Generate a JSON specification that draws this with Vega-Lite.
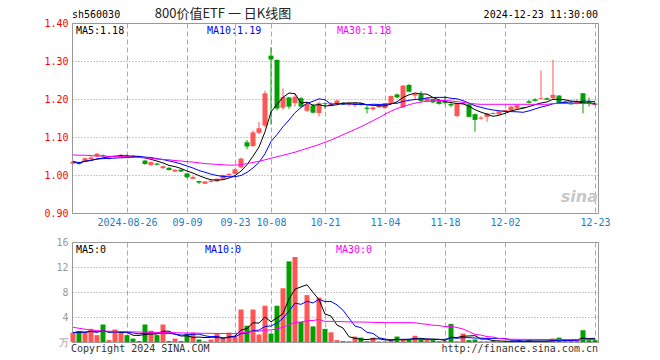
{
  "$schema": "https://vega.github.io/schema/vega-lite/v6.json",
  "padding": {"left": 43, "top": 7, "right": 5, "bottom": 5},
  "background": "white",
  "bounds": "flush",
  "spacing": 29,
  "config": {
    "view": {"stroke": "#999999", "strokeWidth": 1},
    "font": "DejaVu Sans Mono",
    "text": {"font": "DejaVu Sans Mono", "fontSize": 10},
    "axisY": {
      "labelFont": "DejaVu Sans Mono", "labelFontSize": 10, "labelPadding": 4,
      "labelFlush": false, "labelOverlap": false, "ticks": false, "domain": false,
      "title": null, "grid": true, "gridDash": [1, 2], "gridColor": "#999999"
    },
    "axisX": {
      "labelFont": "DejaVu Sans Mono", "labelFontSize": 10, "labelPadding": 4,
      "labelAngle": 0, "labelOverlap": false, "ticks": false, "domain": false,
      "title": null, "grid": true, "gridDash": [5, 3], "gridColor": "#aaaaaa"
    }
  },
  "datasets": {
    "k": [
      {"d":"2024-08-13","o":1.030,"h":1.037,"l":1.028,"c":1.035,"v":1.5,"m30":1.053,"vm30":2.35},
      {"d":"2024-08-14","o":1.034,"h":1.035,"l":1.027,"c":1.029,"v":1.7,"m30":1.052,"vm30":2.2},
      {"d":"2024-08-15","o":1.036,"h":1.046,"l":1.035,"c":1.044,"v":1.5,"m30":1.052,"vm30":2.05},
      {"d":"2024-08-16","o":1.041,"h":1.050,"l":1.040,"c":1.046,"v":2.1,"m30":1.051,"vm30":1.92},
      {"d":"2024-08-19","o":1.049,"h":1.058,"l":1.048,"c":1.056,"v":1.1,"m30":1.050,"vm30":1.82},
      {"d":"2024-08-20","o":1.052,"h":1.054,"l":1.047,"c":1.049,"v":2.8,"m30":1.050,"vm30":1.77},
      {"d":"2024-08-21","o":1.043,"h":1.048,"l":1.041,"c":1.046,"v":0.3,"m30":1.049,"vm30":1.72},
      {"d":"2024-08-22","o":1.048,"h":1.051,"l":1.046,"c":1.050,"v":2.0,"m30":1.049,"vm30":1.7},
      {"d":"2024-08-23","o":1.048,"h":1.055,"l":1.047,"c":1.053,"v":1.45,"m30":1.048,"vm30":1.68},
      {"d":"2024-08-26","o":1.052,"h":1.054,"l":1.049,"c":1.050,"v":1.1,"m30":1.048,"vm30":1.65},
      {"d":"2024-08-27","o":1.051,"h":1.052,"l":1.046,"c":1.047,"v":0.55,"m30":1.047,"vm30":1.62},
      {"d":"2024-08-28","o":1.047,"h":1.048,"l":1.045,"c":1.046,"v":0.15,"m30":1.046,"vm30":1.6},
      {"d":"2024-08-29","o":1.038,"h":1.040,"l":1.027,"c":1.029,"v":2.8,"m30":1.045,"vm30":1.58},
      {"d":"2024-08-30","o":1.026,"h":1.036,"l":1.025,"c":1.034,"v":1.8,"m30":1.044,"vm30":1.56},
      {"d":"2024-09-02","o":1.030,"h":1.032,"l":1.025,"c":1.027,"v":1.1,"m30":1.042,"vm30":1.54},
      {"d":"2024-09-03","o":1.018,"h":1.025,"l":1.016,"c":1.023,"v":2.8,"m30":1.041,"vm30":1.52},
      {"d":"2024-09-04","o":1.019,"h":1.020,"l":1.012,"c":1.013,"v":0.15,"m30":1.040,"vm30":1.5},
      {"d":"2024-09-05","o":1.009,"h":1.015,"l":1.008,"c":1.014,"v":0.55,"m30":1.038,"vm30":1.48},
      {"d":"2024-09-06","o":1.014,"h":1.015,"l":1.008,"c":1.009,"v":0.15,"m30":1.037,"vm30":1.46},
      {"d":"2024-09-09","o":1.004,"h":1.005,"l":0.992,"c":0.994,"v":1.35,"m30":1.035,"vm30":1.44},
      {"d":"2024-09-10","o":0.990,"h":0.997,"l":0.989,"c":0.995,"v":1.5,"m30":1.034,"vm30":1.43},
      {"d":"2024-09-11","o":0.984,"h":0.985,"l":0.976,"c":0.980,"v":0.4,"m30":1.032,"vm30":1.41},
      {"d":"2024-09-12","o":0.977,"h":0.984,"l":0.976,"c":0.983,"v":0.12,"m30":1.030,"vm30":1.39},
      {"d":"2024-09-13","o":0.982,"h":0.986,"l":0.980,"c":0.985,"v":0.4,"m30":1.029,"vm30":1.38},
      {"d":"2024-09-18","o":0.983,"h":0.991,"l":0.982,"c":0.990,"v":1.4,"m30":1.028,"vm30":1.37},
      {"d":"2024-09-19","o":0.990,"h":1.001,"l":0.989,"c":1.000,"v":0.55,"m30":1.027,"vm30":1.36},
      {"d":"2024-09-20","o":0.999,"h":1.004,"l":0.998,"c":1.003,"v":1.5,"m30":1.026,"vm30":1.35},
      {"d":"2024-09-23","o":1.003,"h":1.017,"l":1.002,"c":1.015,"v":0.9,"m30":1.026,"vm30":1.35},
      {"d":"2024-09-24","o":1.020,"h":1.046,"l":1.018,"c":1.043,"v":5.2,"m30":1.027,"vm30":1.5},
      {"d":"2024-09-25","o":1.086,"h":1.092,"l":1.068,"c":1.075,"v":2.6,"m30":1.030,"vm30":1.55},
      {"d":"2024-09-26","o":1.076,"h":1.117,"l":1.074,"c":1.112,"v":5.2,"m30":1.033,"vm30":1.7},
      {"d":"2024-09-27","o":1.111,"h":1.140,"l":1.108,"c":1.123,"v":1.2,"m30":1.036,"vm30":1.72},
      {"d":"2024-09-30","o":1.130,"h":1.222,"l":1.125,"c":1.215,"v":5.8,"m30":1.040,"vm30":1.9},
      {"d":"2024-10-08","o":1.314,"h":1.336,"l":1.133,"c":1.304,"v":1.35,"m30":1.044,"vm30":1.93},
      {"d":"2024-10-09","o":1.303,"h":1.304,"l":1.170,"c":1.175,"v":5.8,"m30":1.048,"vm30":2.1},
      {"d":"2024-10-10","o":1.177,"h":1.228,"l":1.171,"c":1.205,"v":8.6,"m30":1.052,"vm30":2.35},
      {"d":"2024-10-11","o":1.204,"h":1.206,"l":1.174,"c":1.180,"v":12.9,"m30":1.056,"vm30":2.75},
      {"d":"2024-10-14","o":1.189,"h":1.214,"l":1.180,"c":1.206,"v":13.6,"m30":1.060,"vm30":3.15},
      {"d":"2024-10-15","o":1.202,"h":1.205,"l":1.177,"c":1.180,"v":3.2,"m30":1.065,"vm30":3.2},
      {"d":"2024-10-16","o":1.169,"h":1.193,"l":1.166,"c":1.187,"v":7.5,"m30":1.070,"vm30":3.4},
      {"d":"2024-10-17","o":1.183,"h":1.187,"l":1.162,"c":1.164,"v":2.5,"m30":1.075,"vm30":3.45},
      {"d":"2024-10-18","o":1.163,"h":1.193,"l":1.154,"c":1.189,"v":7.1,"m30":1.080,"vm30":3.6},
      {"d":"2024-10-21","o":1.189,"h":1.191,"l":1.174,"c":1.187,"v":2.1,"m30":1.086,"vm30":3.3},
      {"d":"2024-10-22","o":1.183,"h":1.192,"l":1.181,"c":1.188,"v":1.55,"m30":1.092,"vm30":3.3},
      {"d":"2024-10-23","o":1.189,"h":1.198,"l":1.185,"c":1.196,"v":0.3,"m30":1.099,"vm30":3.28},
      {"d":"2024-10-24","o":1.190,"h":1.191,"l":1.185,"c":1.186,"v":0.13,"m30":1.106,"vm30":3.25},
      {"d":"2024-10-25","o":1.185,"h":1.191,"l":1.181,"c":1.190,"v":0.13,"m30":1.113,"vm30":3.22},
      {"d":"2024-10-28","o":1.184,"h":1.191,"l":1.178,"c":1.190,"v":0.87,"m30":1.120,"vm30":3.2},
      {"d":"2024-10-29","o":1.189,"h":1.190,"l":1.183,"c":1.184,"v":0.7,"m30":1.127,"vm30":3.2},
      {"d":"2024-10-30","o":1.177,"h":1.182,"l":1.162,"c":1.174,"v":0.13,"m30":1.135,"vm30":3.18},
      {"d":"2024-10-31","o":1.173,"h":1.180,"l":1.169,"c":1.178,"v":0.7,"m30":1.143,"vm30":3.15},
      {"d":"2024-11-01","o":1.178,"h":1.185,"l":1.176,"c":1.184,"v":0.1,"m30":1.151,"vm30":3.12},
      {"d":"2024-11-04","o":1.176,"h":1.190,"l":1.175,"c":1.189,"v":0.1,"m30":1.160,"vm30":3.1},
      {"d":"2024-11-05","o":1.190,"h":1.209,"l":1.189,"c":1.208,"v":0.35,"m30":1.168,"vm30":3.1},
      {"d":"2024-11-06","o":1.212,"h":1.214,"l":1.202,"c":1.204,"v":0.87,"m30":1.175,"vm30":3.1},
      {"d":"2024-11-07","o":1.178,"h":1.237,"l":1.176,"c":1.235,"v":0.35,"m30":1.180,"vm30":3.1},
      {"d":"2024-11-08","o":1.237,"h":1.239,"l":1.218,"c":1.219,"v":0.35,"m30":1.185,"vm30":3.1},
      {"d":"2024-11-11","o":1.209,"h":1.215,"l":1.200,"c":1.213,"v":1.0,"m30":1.189,"vm30":3.08},
      {"d":"2024-11-12","o":1.212,"h":1.221,"l":1.191,"c":1.195,"v":0.35,"m30":1.192,"vm30":2.92},
      {"d":"2024-11-13","o":1.193,"h":1.204,"l":1.192,"c":1.202,"v":0.35,"m30":1.194,"vm30":2.84},
      {"d":"2024-11-14","o":1.200,"h":1.201,"l":1.189,"c":1.191,"v":0.3,"m30":1.195,"vm30":2.68},
      {"d":"2024-11-15","o":1.195,"h":1.198,"l":1.185,"c":1.187,"v":0.13,"m30":1.196,"vm30":2.64},
      {"d":"2024-11-18","o":1.193,"h":1.208,"l":1.185,"c":1.190,"v":0.13,"m30":1.196,"vm30":2.45},
      {"d":"2024-11-19","o":1.187,"h":1.189,"l":1.178,"c":1.183,"v":2.9,"m30":1.195,"vm30":2.51},
      {"d":"2024-11-20","o":1.155,"h":1.190,"l":1.153,"c":1.189,"v":0.13,"m30":1.193,"vm30":2.32},
      {"d":"2024-11-21","o":1.186,"h":1.190,"l":1.185,"c":1.189,"v":1.35,"m30":1.191,"vm30":2.08},
      {"d":"2024-11-22","o":1.186,"h":1.187,"l":1.152,"c":1.153,"v":0.3,"m30":1.189,"vm30":1.66},
      {"d":"2024-11-25","o":1.160,"h":1.162,"l":1.114,"c":1.145,"v":0.4,"m30":1.187,"vm30":1.22},
      {"d":"2024-11-26","o":1.148,"h":1.155,"l":1.146,"c":1.151,"v":0.13,"m30":1.186,"vm30":1.11},
      {"d":"2024-11-27","o":1.153,"h":1.163,"l":1.140,"c":1.162,"v":0.13,"m30":1.186,"vm30":0.87},
      {"d":"2024-11-28","o":1.163,"h":1.164,"l":1.160,"c":1.161,"v":0.13,"m30":1.186,"vm30":0.79},
      {"d":"2024-11-29","o":1.160,"h":1.168,"l":1.158,"c":1.167,"v":0.1,"m30":1.186,"vm30":0.56},
      {"d":"2024-12-02","o":1.168,"h":1.172,"l":1.166,"c":1.171,"v":0.1,"m30":1.186,"vm30":0.49},
      {"d":"2024-12-03","o":1.169,"h":1.181,"l":1.168,"c":1.180,"v":0.1,"m30":1.186,"vm30":0.44},
      {"d":"2024-12-04","o":1.175,"h":1.185,"l":1.174,"c":1.184,"v":0.1,"m30":1.186,"vm30":0.43},
      {"d":"2024-12-05","o":1.178,"h":1.179,"l":1.175,"c":1.176,"v":0.1,"m30":1.186,"vm30":0.42},
      {"d":"2024-12-06","o":1.194,"h":1.197,"l":1.188,"c":1.190,"v":0.3,"m30":1.186,"vm30":0.42},
      {"d":"2024-12-09","o":1.199,"h":1.202,"l":1.193,"c":1.195,"v":0.13,"m30":1.186,"vm30":0.41},
      {"d":"2024-12-10","o":1.200,"h":1.275,"l":1.199,"c":1.202,"v":0.1,"m30":1.186,"vm30":0.4},
      {"d":"2024-12-11","o":1.202,"h":1.204,"l":1.197,"c":1.198,"v":0.13,"m30":1.186,"vm30":0.4},
      {"d":"2024-12-12","o":1.202,"h":1.303,"l":1.201,"c":1.211,"v":0.55,"m30":1.188,"vm30":0.4},
      {"d":"2024-12-13","o":1.209,"h":1.210,"l":1.188,"c":1.189,"v":0.7,"m30":1.188,"vm30":0.4},
      {"d":"2024-12-16","o":1.193,"h":1.195,"l":1.187,"c":1.189,"v":0.13,"m30":1.188,"vm30":0.39},
      {"d":"2024-12-17","o":1.190,"h":1.192,"l":1.185,"c":1.186,"v":0.13,"m30":1.188,"vm30":0.38},
      {"d":"2024-12-18","o":1.187,"h":1.200,"l":1.186,"c":1.193,"v":0.3,"m30":1.188,"vm30":0.38},
      {"d":"2024-12-19","o":1.215,"h":1.216,"l":1.162,"c":1.189,"v":1.9,"m30":1.188,"vm30":0.42},
      {"d":"2024-12-20","o":1.193,"h":1.204,"l":1.180,"c":1.189,"v":0.3,"m30":1.188,"vm30":0.41},
      {"d":"2024-12-23","o":1.188,"h":1.192,"l":1.183,"c":1.185,"v":0.3,"m30":1.186,"vm30":0.4}
    ]
  },
  "vconcat": [
    {
      "width": 526,
      "height": 190,
      "data": {"name": "k"},
      "encoding": {
        "x": {
          "field": "d", "type": "ordinal",
          "scale": {"type": "point", "padding": 0.333, "align": 0.25},
          "axis": {
            "values": ["2024-08-26","2024-09-09","2024-09-23","2024-10-08","2024-10-21","2024-11-04","2024-11-18","2024-12-02","2024-12-23"],
            "labelExpr": "datum.value == '2024-08-26' ? datum.value : slice(datum.value, 5)",
            "labelColor": "#1a7cc4"
          }
        }
      },
      "layer": [
        {
          "mark": {"type": "rule", "strokeWidth": 1},
          "encoding": {
            "y": {"field": "l", "type": "quantitative", "title": null, "scale": {"domain": [0.9, 1.4], "nice": false, "zero": false},
                  "axis": {"values": [0.9, 1.0, 1.1, 1.2, 1.3, 1.4], "format": ".2f", "labelColor": "#ff0000"}},
            "y2": {"field": "h"},
            "color": {"condition": {"test": "datum.c >= datum.o", "value": "#ff5555"}, "value": "#00a000"}
          }
        },
        {
          "mark": {"type": "bar", "size": 5},
          "encoding": {
            "y": {"field": "o", "type": "quantitative", "title": null, "scale": {"domain": [0.9, 1.4], "nice": false, "zero": false},
                  "axis": {"values": [0.9, 1.0, 1.1, 1.2, 1.3, 1.4], "format": ".2f", "labelColor": "#ff0000"}},
            "y2": {"field": "c"},
            "color": {"condition": {"test": "datum.c >= datum.o", "value": "#ff5555"}, "value": "#00a000"}
          }
        },
        {
          "transform": [{"window": [{"op": "mean", "field": "c", "as": "ma5"}], "frame": [-4, 0], "sort": [{"field": "d"}]}],
          "mark": {"type": "line", "color": "#000000", "strokeWidth": 1},
          "encoding": {"y": {"field": "ma5", "type": "quantitative", "title": null, "scale": {"domain": [0.9, 1.4], "nice": false, "zero": false},
                  "axis": {"values": [0.9, 1.0, 1.1, 1.2, 1.3, 1.4], "format": ".2f", "labelColor": "#ff0000"}}}
        },
        {
          "transform": [{"window": [{"op": "mean", "field": "c", "as": "ma10"}], "frame": [-9, 0], "sort": [{"field": "d"}]}],
          "mark": {"type": "line", "color": "#0000ff", "strokeWidth": 1},
          "encoding": {"y": {"field": "ma10", "type": "quantitative", "title": null, "scale": {"domain": [0.9, 1.4], "nice": false, "zero": false},
                  "axis": {"values": [0.9, 1.0, 1.1, 1.2, 1.3, 1.4], "format": ".2f", "labelColor": "#ff0000"}}}
        },
        {
          "mark": {"type": "line", "color": "#ff00ff", "strokeWidth": 1},
          "encoding": {"y": {"field": "m30", "type": "quantitative", "title": null, "scale": {"domain": [0.9, 1.4], "nice": false, "zero": false},
                  "axis": {"values": [0.9, 1.0, 1.1, 1.2, 1.3, 1.4], "format": ".2f", "labelColor": "#ff0000"}}}
        },
        {
          "data": {"values": [{}]},
          "mark": {"type": "text", "align": "left", "baseline": "top", "dx": 3, "dy": 3, "color": "#000000", "fontSize": 10},
          "encoding": {"x": {"datum": "2024-08-13", "type": "ordinal"},
                       "y": {"datum": 1.4, "type": "quantitative", "axis": {"values": [0.9, 1.0, 1.1, 1.2, 1.3, 1.4], "format": ".2f", "labelColor": "#ff0000"}},
                       "text": {"value": "MA5:1.18"}}
        },
        {
          "data": {"values": [{}]},
          "mark": {"type": "text", "align": "left", "baseline": "top", "dx": 2, "dy": 3, "color": "#0000ff", "fontSize": 10},
          "encoding": {"x": {"datum": "2024-09-12", "type": "ordinal"},
                       "y": {"datum": 1.4, "type": "quantitative", "axis": {"values": [0.9, 1.0, 1.1, 1.2, 1.3, 1.4], "format": ".2f", "labelColor": "#ff0000"}},
                       "text": {"value": "MA10:1.19"}}
        },
        {
          "data": {"values": [{}]},
          "mark": {"type": "text", "align": "left", "baseline": "top", "dx": 0, "dy": 3, "color": "#ff00ff", "fontSize": 10},
          "encoding": {"x": {"datum": "2024-10-23", "type": "ordinal"},
                       "y": {"datum": 1.4, "type": "quantitative", "axis": {"values": [0.9, 1.0, 1.1, 1.2, 1.3, 1.4], "format": ".2f", "labelColor": "#ff0000"}},
                       "text": {"value": "MA30:1.18"}}
        },
        {
          "data": {"values": [{}]},
          "mark": {"type": "text", "align": "left", "baseline": "alphabetic", "dx": -1, "dy": -5, "color": "#000000", "fontSize": 10},
          "encoding": {"x": {"datum": "2024-08-13", "type": "ordinal"},
                       "y": {"datum": 1.4, "type": "quantitative", "axis": {"values": [0.9, 1.0, 1.1, 1.2, 1.3, 1.4], "format": ".2f", "labelColor": "#ff0000"}},
                       "text": {"value": "sh560030"}}
        },
        {
          "data": {"values": [{}]},
          "mark": {"type": "text", "align": "center", "baseline": "alphabetic", "dx": 0, "dy": -5, "color": "#222222", "fontSize": 13, "font": "Noto Sans CJK SC"},
          "encoding": {"x": {"datum": "2024-09-19", "type": "ordinal"},
                       "y": {"datum": 1.4, "type": "quantitative", "axis": {"values": [0.9, 1.0, 1.1, 1.2, 1.3, 1.4], "format": ".2f", "labelColor": "#ff0000"}},
                       "text": {"value": "800价值ETF 一 日K线图"}}
        },
        {
          "data": {"values": [{}]},
          "mark": {"type": "text", "align": "right", "baseline": "alphabetic", "dx": 3, "dy": -5, "color": "#000000", "fontSize": 10},
          "encoding": {"x": {"datum": "2024-12-23", "type": "ordinal"},
                       "y": {"datum": 1.4, "type": "quantitative", "axis": {"values": [0.9, 1.0, 1.1, 1.2, 1.3, 1.4], "format": ".2f", "labelColor": "#ff0000"}},
                       "text": {"value": "2024-12-23 11:30:00"}}
        },
        {
          "data": {"values": [{}]},
          "mark": {"type": "text", "align": "right", "baseline": "bottom", "dx": 3, "dy": -8, "color": "#c8c8c8", "fontSize": 16, "fontStyle": "italic", "fontWeight": "bold", "font": "DejaVu Sans"},
          "encoding": {"x": {"datum": "2024-12-23", "type": "ordinal"},
                       "y": {"datum": 0.9, "type": "quantitative", "axis": {"values": [0.9, 1.0, 1.1, 1.2, 1.3, 1.4], "format": ".2f", "labelColor": "#ff0000"}},
                       "text": {"value": "sina"}}
        }
      ]
    },
    {
      "width": 526,
      "height": 100,
      "data": {"name": "k"},
      "encoding": {
        "x": {
          "field": "d", "type": "ordinal",
          "scale": {"type": "point", "padding": 0.333, "align": 0.25},
          "axis": {
            "values": ["2024-08-26","2024-09-09","2024-09-23","2024-10-08","2024-10-21","2024-11-04","2024-11-18","2024-12-02","2024-12-23"],
            "labels": false
          }
        }
      },
      "layer": [
        {
          "mark": {"type": "bar", "size": 5},
          "encoding": {
            "y": {"field": "v", "type": "quantitative", "title": null, "scale": {"domain": [0, 16], "nice": false},
                  "axis": {"values": [0, 4, 8, 12, 16], "labelExpr": "datum.value == 0 ? '万' : datum.label", "labelColor": "#999999"}},
            "color": {"condition": {"test": "datum.c >= datum.o", "value": "#ff5555"}, "value": "#00a000"}
          }
        },
        {
          "transform": [{"window": [{"op": "mean", "field": "v", "as": "vma5"}], "frame": [-4, 0], "sort": [{"field": "d"}]}],
          "mark": {"type": "line", "color": "#000000", "strokeWidth": 1},
          "encoding": {"y": {"field": "vma5", "type": "quantitative", "title": null, "scale": {"domain": [0, 16], "nice": false},
                  "axis": {"values": [0, 4, 8, 12, 16], "labelExpr": "datum.value == 0 ? '万' : datum.label", "labelColor": "#999999"}}}
        },
        {
          "transform": [{"window": [{"op": "mean", "field": "v", "as": "vma10"}], "frame": [-9, 0], "sort": [{"field": "d"}]}],
          "mark": {"type": "line", "color": "#0000ff", "strokeWidth": 1},
          "encoding": {"y": {"field": "vma10", "type": "quantitative", "title": null, "scale": {"domain": [0, 16], "nice": false},
                  "axis": {"values": [0, 4, 8, 12, 16], "labelExpr": "datum.value == 0 ? '万' : datum.label", "labelColor": "#999999"}}}
        },
        {
          "mark": {"type": "line", "color": "#ff00ff", "strokeWidth": 1},
          "encoding": {"y": {"field": "vm30", "type": "quantitative", "title": null, "scale": {"domain": [0, 16], "nice": false},
                  "axis": {"values": [0, 4, 8, 12, 16], "labelExpr": "datum.value == 0 ? '万' : datum.label", "labelColor": "#999999"}}}
        },
        {
          "data": {"values": [{}]},
          "mark": {"type": "text", "align": "left", "baseline": "top", "dx": 3, "dy": 3, "color": "#000000", "fontSize": 10},
          "encoding": {"x": {"datum": "2024-08-13", "type": "ordinal"},
                       "y": {"datum": 16, "type": "quantitative", "axis": {"values": [0, 4, 8, 12, 16], "labelExpr": "datum.value == 0 ? '万' : datum.label", "labelColor": "#999999"}},
                       "text": {"value": "MA5:0"}}
        },
        {
          "data": {"values": [{}]},
          "mark": {"type": "text", "align": "left", "baseline": "top", "dx": 0, "dy": 3, "color": "#0000ff", "fontSize": 10},
          "encoding": {"x": {"datum": "2024-09-12", "type": "ordinal"},
                       "y": {"datum": 16, "type": "quantitative", "axis": {"values": [0, 4, 8, 12, 16], "labelExpr": "datum.value == 0 ? '万' : datum.label", "labelColor": "#999999"}},
                       "text": {"value": "MA10:0"}}
        },
        {
          "data": {"values": [{}]},
          "mark": {"type": "text", "align": "left", "baseline": "top", "dx": -1, "dy": 3, "color": "#ff00ff", "fontSize": 10},
          "encoding": {"x": {"datum": "2024-10-23", "type": "ordinal"},
                       "y": {"datum": 16, "type": "quantitative", "axis": {"values": [0, 4, 8, 12, 16], "labelExpr": "datum.value == 0 ? '万' : datum.label", "labelColor": "#999999"}},
                       "text": {"value": "MA30:0"}}
        },
        {
          "data": {"values": [{}]},
          "mark": {"type": "text", "align": "left", "baseline": "top", "dx": -2, "dy": 2, "color": "#333333", "fontSize": 10},
          "encoding": {"x": {"datum": "2024-08-13", "type": "ordinal"},
                       "y": {"datum": 0, "type": "quantitative", "axis": {"values": [0, 4, 8, 12, 16], "labelExpr": "datum.value == 0 ? '万' : datum.label", "labelColor": "#999999"}},
                       "text": {"value": "Copyright 2024 SINA.COM"}}
        },
        {
          "data": {"values": [{}]},
          "mark": {"type": "text", "align": "right", "baseline": "top", "dx": 3, "dy": 2, "color": "#333333", "fontSize": 10},
          "encoding": {"x": {"datum": "2024-12-23", "type": "ordinal"},
                       "y": {"datum": 0, "type": "quantitative", "axis": {"values": [0, 4, 8, 12, 16], "labelExpr": "datum.value == 0 ? '万' : datum.label", "labelColor": "#999999"}},
                       "text": {"value": "http://finance.sina.com.cn"}}
        }
      ]
    }
  ]
}
